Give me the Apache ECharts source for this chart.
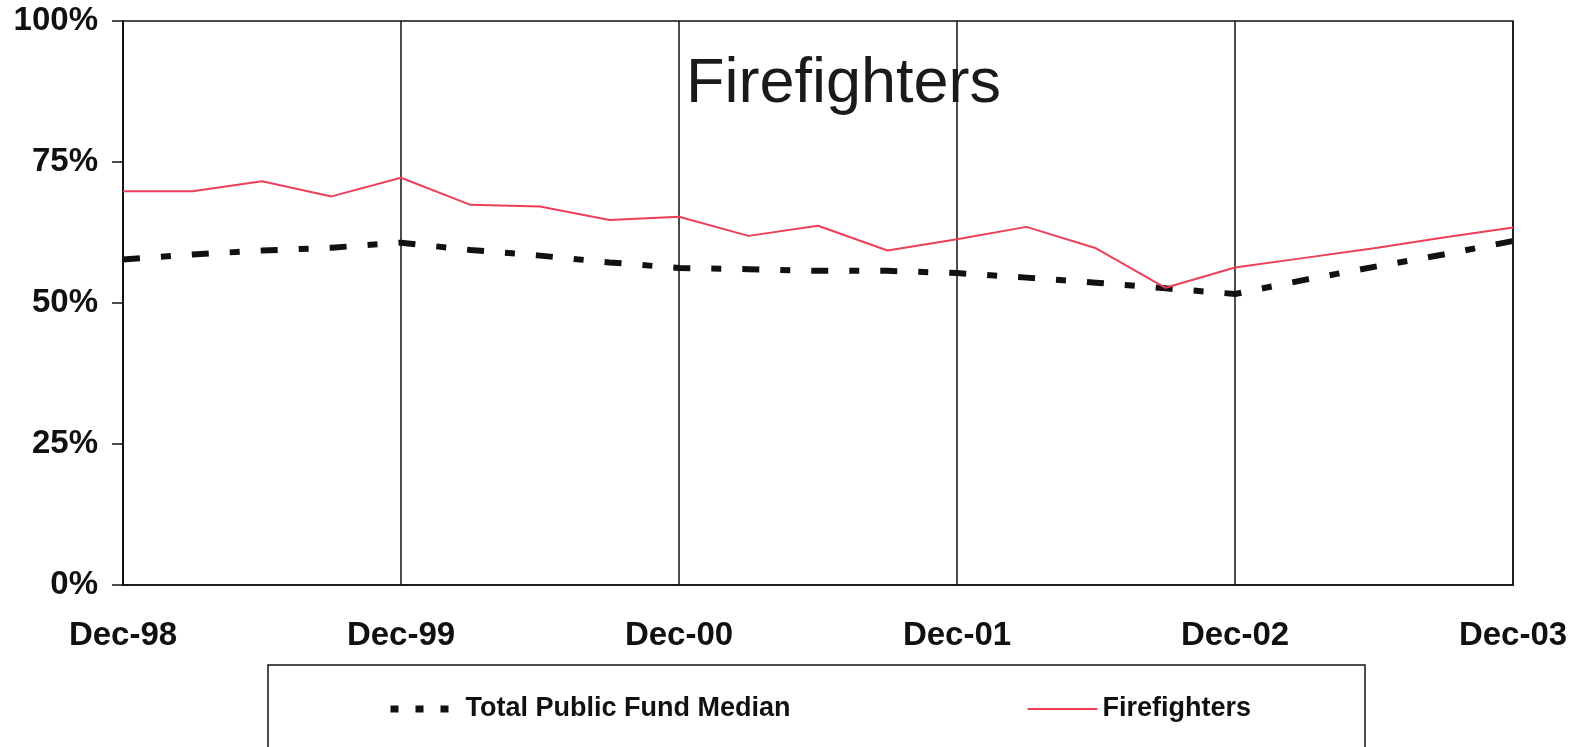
<!DOCTYPE html>
<html>
<head>
<meta charset="utf-8">
<script src="https://cdn.jsdelivr.net/npm/echarts@6/dist/echarts.min.js"></script>
<style>
html,body{margin:0;padding:0;background:#fff;}
#main{width:1576px;height:747px;}
</style>
</head>
<body>
<div id="main"></div>
<script>
// quarterly points, Dec-98 .. Dec-03
var quarters = ['Dec-98','Mar-99','Jun-99','Sep-99','Dec-99','Mar-00','Jun-00','Sep-00','Dec-00',
    'Mar-01','Jun-01','Sep-01','Dec-01','Mar-02','Jun-02','Sep-02','Dec-02','Mar-03','Jun-03','Sep-03','Dec-03'];
var firefighters = [69.8,69.8,71.6,68.9,72.2,67.4,67.1,64.7,65.3,61.9,63.7,59.3,61.3,63.5,59.7,52.7,56.3,58.0,59.7,61.6,63.4];
var publicMedian = [57.7,58.6,59.3,59.8,60.7,59.4,58.4,57.2,56.2,56.0,55.7,55.7,55.3,54.5,53.6,52.6,51.6,54.1,56.4,58.6,61.0];
var yTicks = [0,25,50,75,100];

var chart = echarts.init(document.getElementById('main'));
var font = 'Liberation Sans, Arial, sans-serif';
var option = {
    animation: false,
    backgroundColor: '#fff',
    title: {
        text: 'Firefighters',
        left: 686,
        top: 53,
        padding: 0,
        textStyle: {fontFamily: font, fontSize: 63, fontWeight: 'normal', color: '#1a1a1a'}
    },
    legend: {
        left: 268,
        top: 665,
        padding: [30, 114, 60, 119],
        borderColor: '#111',
        borderWidth: 1.5,
        itemWidth: 70,
        itemHeight: 14,
        itemGap: 236,
        itemStyle: {opacity: 0},
        textStyle: {fontFamily: font, fontSize: 27, fontWeight: 'bold', color: '#111', lineHeight: 28},
        data: [
            {name: 'Total Public Fund Median', lineStyle: {type: [8, 17], width: 7}},
            {name: 'Firefighters'}
        ]
    },
    grid: {
        left: 123,
        right: 63,
        top: 21,
        bottom: 162,
        show: true,
        borderColor: '#111',
        borderWidth: 1.5
    },
    xAxis: {
        type: 'category',
        boundaryGap: false,
        data: quarters,
        axisLine: {lineStyle: {color: '#111', width: 1.5}},
        axisTick: {show: false},
        axisLabel: {
            interval: 3,
            margin: 34,
            fontFamily: font, fontSize: 33, fontWeight: 'bold', color: '#111'
        },
        splitLine: {show: true, interval: 3, lineStyle: {color: '#111', width: 1.5}}
    },
    yAxis: {
        type: 'value',
        min: yTicks[0],
        max: yTicks[yTicks.length - 1],
        interval: 25,
        axisLine: {show: true, lineStyle: {color: '#111', width: 1.5}},
        axisTick: {show: true, length: 11, lineStyle: {color: '#111', width: 1.5}},
        axisLabel: {
            formatter: '{value}%',
            margin: 25,
            fontFamily: font, fontSize: 33, fontWeight: 'bold', color: '#111'
        },
        splitLine: {show: false}
    },
    series: [
        {
            name: 'Total Public Fund Median',
            type: 'line',
            symbol: 'none',
            data: publicMedian,
            color: '#111',
            lineStyle: {color: '#111', width: 6, type: [17, 21, 10, 21], cap: 'butt'},
            z: 3
        },
        {
            name: 'Firefighters',
            type: 'line',
            symbol: 'none',
            data: firefighters,
            color: '#ee3f5a',
            lineStyle: {color: '#ee3f5a', width: 2},
            z: 4
        }
    ]
};
chart.setOption(option);
</script>
</body>
</html>
